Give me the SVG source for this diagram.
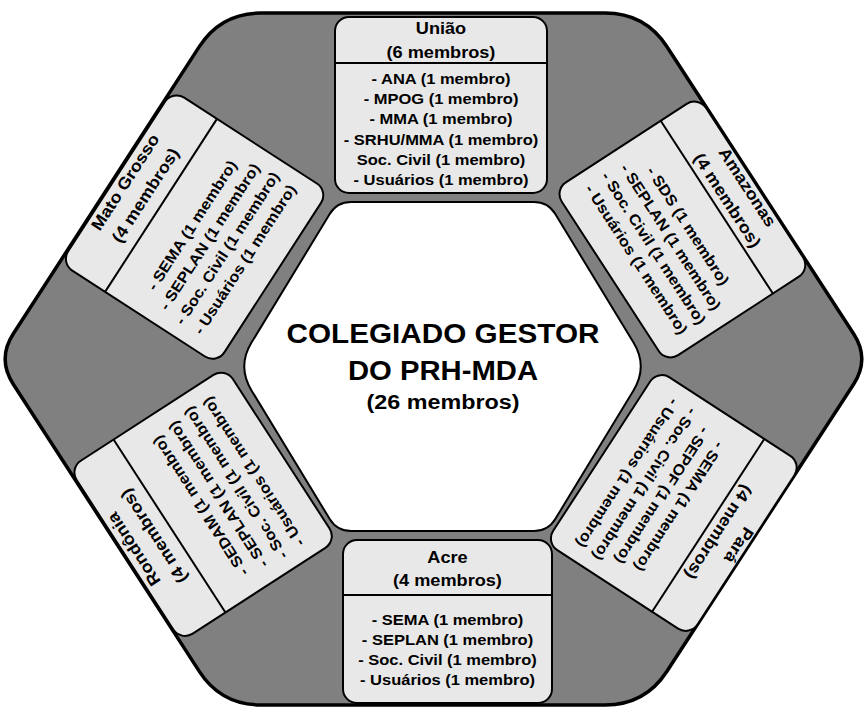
<svg xmlns="http://www.w3.org/2000/svg" width="866" height="707" viewBox="0 0 866 707">
<style>
.hex{fill:#808080;stroke:#000;stroke-width:3.5;stroke-linejoin:round}
.core{fill:#fff;stroke:#000;stroke-width:2}
.box{fill:#e8e8e8;stroke:#000;stroke-width:2}
.div{stroke:#000;stroke-width:2}
text{font-family:"Liberation Sans",Arial,sans-serif;font-weight:bold;text-anchor:middle;fill:#000}
.hd{font-size:16.5px}
.it{font-size:15px}
.t1{font-size:27px}
.t2{font-size:19.5px}
</style>
<rect width="866" height="707" fill="#fff"/>
<g id="frame">
<path class="hex" d="M261,13 L605,13 Q645,13 666.8,46.5 L853.6,333.8 Q870,359 853.6,384.2 L666.8,671.5 Q645,705 605,705 L261,705 Q221,705 199.3,671.4 L13.3,384.2 Q-3,359 13.3,333.8 L199.3,46.6 Q221,13 261,13 Z"/>
</g>
<g id="colegiado">
<path class="core" d="M351,202 L534,202 Q548,202 555.3,214 L633.5,342.6 Q648,366.5 633.5,390.4 L555.3,519 Q548,531 534,531 L351,531 Q337,531 329.7,519 L251.5,390.4 Q237,366.5 251.5,342.6 L329.7,214 Q337,202 351,202 Z"/>
<text class="t1" x="443" y="343" textLength="313" lengthAdjust="spacingAndGlyphs">COLEGIADO GESTOR</text>
<text class="t1" x="443" y="380" textLength="190" lengthAdjust="spacingAndGlyphs">DO PRH-MDA</text>
<text class="t2" x="443" y="409" textLength="153" lengthAdjust="spacingAndGlyphs">(26 membros)</text>
</g>
<g id="uniao" transform="translate(441,105)">
<rect class="box" x="-106" y="-88" width="212" height="176" rx="14"/>
<line class="div" x1="-106" y1="-42" x2="106" y2="-42"/>
<g transform="scale(1.1,1)">
<text class="hd" y="-71">União</text>
<text class="hd" y="-47.5">(6 membros)</text>
<text class="it" y="-21.5">- ANA (1 membro)</text>
<text class="it" y="-1.1">- MPOG (1 membro)</text>
<text class="it" y="19.3">- MMA (1 membro)</text>
<text class="it" y="39.7">- SRHU/MMA (1 membro)</text>
<text class="it" y="60.1">Soc. Civil (1 membro)</text>
<text class="it" y="80.5">- Usuários (1 membro)</text>
</g>
</g>
<g id="acre" transform="translate(447.5,621.5)">
<rect class="box" x="-104.5" y="-81.5" width="209" height="163" rx="14"/>
<line class="div" x1="-104.5" y1="-26.5" x2="104.5" y2="-26.5"/>
<g transform="scale(1.1,1)">
<text class="hd" y="-59">Acre</text>
<text class="hd" y="-36">(4 membros)</text>
<text class="it" y="3">- SEMA (1 membro)</text>
<text class="it" y="23.2">- SEPLAN (1 membro)</text>
<text class="it" y="43.4">- Soc. Civil (1 membro)</text>
<text class="it" y="63.6">- Usuários (1 membro)</text>
</g>
</g>
<g id="mato-grosso" transform="translate(194.6,227.1) rotate(-57.1)">
<rect class="box" x="-103" y="-93" width="206" height="186" rx="14"/>
<line class="div" x1="-103" y1="-40" x2="103" y2="-40"/>
<g transform="scale(1.1,1)">
<text class="hd" y="-77">Mato Grosso</text>
<text class="hd" y="-53">(4 membros)</text>
<text class="it" y="2">- SEMA (1 membro)</text>
<text class="it" y="23">- SEPLAN (1 membro)</text>
<text class="it" y="44">- Soc. Civil (1 membro)</text>
<text class="it" y="65">- Usuários (1 membro)</text>
</g>
</g>
<g id="amazonas" transform="translate(682.4,229.5) rotate(57)">
<rect class="box" x="-103" y="-86" width="206" height="172" rx="14"/>
<line class="div" x1="-103" y1="-41" x2="103" y2="-41"/>
<g transform="scale(1.1,1)">
<text class="hd" y="-72">Amazonas</text>
<text class="hd" y="-48">(4 membros)</text>
<text class="it" y="-1.5">- SDS (1 membro)</text>
<text class="it" y="19">- SEPLAN (1 membro)</text>
<text class="it" y="39.5">- Soc. Civil (1 membro)</text>
<text class="it" y="60">- Usuários (1 membro)</text>
</g>
</g>
<g id="para" transform="translate(673.8,503) rotate(123)">
<rect class="box" x="-103" y="-86" width="206" height="172" rx="14"/>
<line class="div" x1="-103" y1="-41" x2="103" y2="-41"/>
<g transform="scale(1.1,1)">
<text class="hd" y="-72">Pará</text>
<text class="hd" y="-48">(4 membros)</text>
<text class="it" y="-1.5">- SEMA (1 membro)</text>
<text class="it" y="19">- SEPOF (1 membro)</text>
<text class="it" y="39.5">- Soc. Civil (1 membro)</text>
<text class="it" y="60">- Usuários (1 membro)</text>
</g>
</g>
<g id="rondonia" transform="translate(203.1,504.3) rotate(-122.9)">
<rect class="box" x="-103" y="-93" width="206" height="186" rx="14"/>
<line class="div" x1="-103" y1="-40" x2="103" y2="-40"/>
<g transform="scale(1.1,1)">
<text class="hd" y="-77">Rondônia</text>
<text class="hd" y="-53">(4 membros)</text>
<text class="it" y="2">- SEDAM (1 membro)</text>
<text class="it" y="23">- SEPLAN (1 membro)</text>
<text class="it" y="44">- Soc. Civil (1 membro)</text>
<text class="it" y="65">- Usuários (1 membro)</text>
</g>
</g>
</svg>
